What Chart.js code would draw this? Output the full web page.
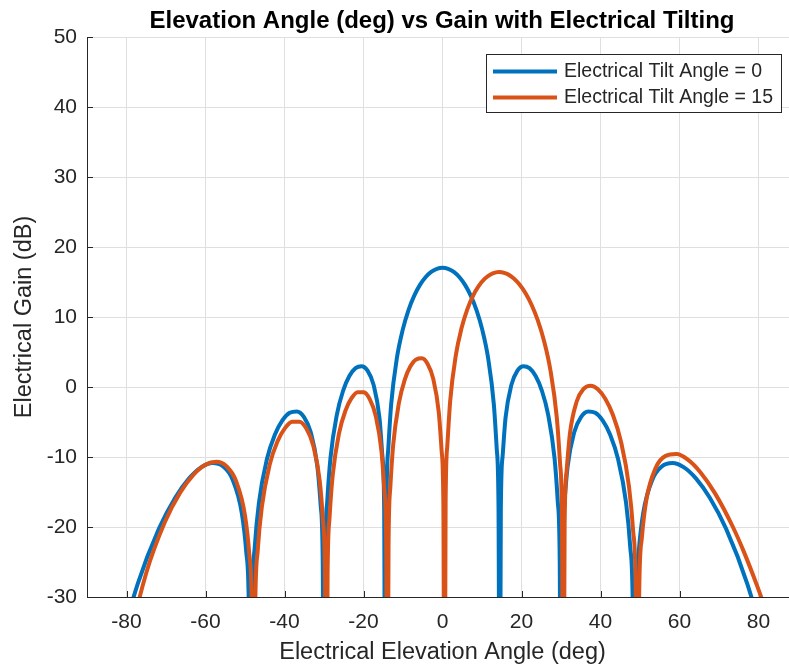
<!DOCTYPE html>
<html>
<head>
<meta charset="utf-8">
<script src="https://cdn.jsdelivr.net/npm/chart.js@4.4.1/dist/chart.umd.min.js"></script>
<style>
  html, body { margin: 0; padding: 0; background: #ffffff; overflow: hidden; }
  #wrap { width: 789px; height: 671px; overflow: hidden; position: relative; }
  canvas { display: block; }
</style>
</head>
<body>
<div id="wrap"><canvas id="c" width="810" height="671"></canvas></div>
<script>
// ---- Data ----
const chartTitle = 'Elevation Angle (deg) vs Gain with Electrical Tilting';
const xAxisTitle = 'Electrical Elevation Angle (deg)';
const yAxisTitle = 'Electrical Gain (dB)';
const seriesLabels = ['Electrical Tilt Angle = 0', 'Electrical Tilt Angle = 15'];

const xTickValues = [-80, -60, -40, -20, 0, 20, 40, 60, 80];
const xTickLabels = ['-80', '-60', '-40', '-20', '0', '20', '40', '60', '80'];
const yTickValues = [-30, -20, -10, 0, 10, 20, 30, 40, 50];
const yTickLabels = ['-30', '-20', '-10', '0', '10', '20', '30', '40', '50'];

// Tilt 0 (blue)
const blueAngles = [
  -84.27, -80.93, -77.16, -71.81, -67.67, -64.16, -61.04, -58.21, -55.59, -53.13, -50.81, -49.69, -49.03, -48.59,
  -48.16, -47.52, -46.47, -44.43, -42.45, -40.54, -38.68, -36.87, -35.10, -33.37, -31.67, -30.83, -30.33, -30.00,
  -29.67, -29.18, -28.36, -26.74, -25.15, -23.58, -22.02, -20.49, -18.97, -17.46, -15.96, -15.22, -14.77, -14.48,
  -14.18, -13.74, -13.00, -11.54, -10.08, -8.63, -7.18, -5.74, -4.30, -2.87, -1.43, 0, 1.43, 2.87, 4.30, 5.74, 7.18, 8.63, 10.08, 11.54, 13.00, 13.74, 14.18, 14.48,
  14.77, 15.22, 15.96, 17.46, 18.97, 20.49, 22.02, 23.58, 25.15, 26.74, 28.36, 29.18, 29.67, 30.00,
  30.33, 30.83, 31.67, 33.37, 35.10, 36.87, 38.68, 40.54, 42.45, 44.43, 46.47, 47.52, 48.16, 48.59,
  49.03, 49.69, 50.81, 53.13, 55.59, 58.21, 61.04, 64.16, 67.67, 71.81, 77.16, 80.93, 84.27
];
const blueGain = [
  -45.24, -35.74, -28.13, -20.27, -15.82, -13.05, -11.44, -10.85, -11.32, -13.24, -18.01, -23.53, -31.24, -60,
  -30.95, -22.79, -16.53, -10.26, -6.81, -4.76, -3.68, -3.49, -4.27, -6.43, -11.40, -17.00, -24.74, -60,
  -24.49, -16.38, -10.15, -3.93, -0.51, 1.56, 2.69, 2.98, 2.33, 0.34, -4.39, -9.86, -17.51, -60,
  -17.14, -8.92, -2.50, 4.17, 8.16, 10.96, 13.02, 14.55, 15.67, 16.44, 16.88, 17.03, 16.88, 16.44, 15.67, 14.55, 13.02, 10.96, 8.16, 4.17, -2.50, -8.92, -17.14, -60,
  -17.51, -9.86, -4.39, 0.34, 2.33, 2.98, 2.69, 1.56, -0.51, -3.93, -10.15, -16.38, -24.49, -60,
  -24.74, -17.00, -11.40, -6.43, -4.27, -3.49, -3.68, -4.76, -6.81, -10.26, -16.53, -22.79, -30.95, -60,
  -31.24, -23.53, -18.01, -13.24, -11.32, -10.85, -11.44, -13.05, -15.82, -20.27, -28.13, -35.74, -45.24
];

// Tilt 15 (orange)
const orangeAngles = [
  -80.46, -78.15, -75.06, -70.25, -66.38, -63.02, -60.02, -57.27, -54.70, -52.29, -50.01, -48.91, -48.26, -47.83,
  -47.41, -46.78, -45.74, -43.73, -41.77, -39.88, -38.04, -36.24, -34.48, -32.77, -31.08, -30.25, -29.75, -29.42,
  -29.09, -28.60, -27.79, -26.18, -24.59, -23.03, -21.48, -19.95, -18.43, -16.93, -15.44, -14.70, -14.25, -13.96,
  -13.66, -13.22, -12.49, -11.02, -9.57, -8.12, -6.67, -5.23, -3.80, -2.36, -0.93, -0.21, 0.22, 0.51,
  0.79, 1.22, 1.94, 3.37, 4.81, 6.25, 7.69, 9.14, 10.59, 12.05, 13.52, 14.26, 15.00, 16.49, 17.99, 19.50, 21.03, 22.57, 24.13, 25.71, 27.31, 28.94, 29.76, 30.25, 30.59,
  30.92, 31.42, 32.26, 33.97, 35.72, 37.51, 39.33, 41.21, 43.15, 45.14, 47.21, 48.27, 48.92, 49.36,
  49.80, 50.47, 51.61, 53.98, 56.49, 59.19, 62.11, 65.33, 69.04, 73.52, 76.25, 79.68, 82.45, 90
];
const orangeGain = [
  -42.80, -33.87, -26.67, -19.24, -15.06, -12.51, -11.10, -10.68, -11.31, -13.39, -18.32, -23.93, -31.69, -60,
  -31.45, -23.36, -17.16, -11.05, -7.77, -5.88, -4.97, -4.96, -5.92, -8.27, -13.42, -19.12, -26.92, -60,
  -26.76, -18.70, -12.59, -6.60, -3.41, -1.60, -0.74, -0.76, -1.74, -4.08, -9.23, -14.91, -22.71, -60,
  -22.52, -14.46, -8.31, -2.25, 1.03, 2.95, 3.94, 4.09, 3.31, 1.19, -3.67, -9.20, -16.89, -60,
  -16.57, -8.38, -2.03, 4.52, 8.38, 11.06, 13.00, 14.41, 15.41, 16.05, 16.37, 16.42, 16.39, 16.12, 15.54, 14.64, 13.39, 11.72, 9.52, 6.57, 2.43, -4.40, -10.90, -19.17, -60,
  -19.61, -12.00, -6.63, -2.07, -0.27, 0.18, -0.32, -1.68, -4.00, -7.69, -14.20, -20.58, -28.79, -60,
  -29.17, -21.53, -16.12, -11.55, -9.84, -9.58, -10.38, -12.21, -15.23, -20.00, -23.48, -28.44, -32.78, -42.42
];

// ---- Styling ----
const FONT = '"Liberation Sans", Arial, Helvetica, sans-serif';
const BLUE = '#0072BD';
const ORANGE = '#D95319';
const AXIS = '#262626';
const GRID = '#dfdfdf';

const toPoints = (xs, ys) => xs.map((x, i) => ({ x: x, y: ys[i] }));

const titlePlugin = {
  id: 'matlabTitle',
  afterDraw(chart) {
    const { ctx, chartArea } = chart;
    ctx.save();
    ctx.font = 'bold 24px ' + FONT;
    ctx.fillStyle = '#000000';
    ctx.textAlign = 'center';
    ctx.textBaseline = 'alphabetic';
    ctx.fillText(chartTitle, (chartArea.left + chartArea.right) / 2 - 0.5, 27.5);
    ctx.restore();
  }
};

const innerTicksPlugin = {
  id: 'innerTicks',
  beforeDatasetsDraw(chart) {
    const { ctx, chartArea, scales } = chart;
    const len = 6;
    ctx.save();
    ctx.strokeStyle = AXIS;
    ctx.lineWidth = 1;
    ctx.beginPath();
    xTickValues.forEach(v => {
      const px = Math.round(scales.x.getPixelForValue(v)) + 0.5;
      ctx.moveTo(px, chartArea.bottom);
      ctx.lineTo(px, chartArea.bottom - len);
    });
    yTickValues.forEach(v => {
      const py = Math.round(scales.y.getPixelForValue(v)) + 0.5;
      ctx.moveTo(chartArea.left, py);
      ctx.lineTo(chartArea.left + len, py);
    });
    ctx.stroke();
    ctx.restore();
  }
};

const legendPlugin = {
  id: 'innerLegend',
  afterDatasetsDraw(chart) {
    const { ctx } = chart;
    const box = { x: 486.5, y: 54.5, w: 295, h: 58 };
    const rows = [71.5, 97.5];
    ctx.save();
    ctx.fillStyle = '#ffffff';
    ctx.fillRect(box.x, box.y, box.w, box.h);
    ctx.strokeStyle = AXIS;
    ctx.lineWidth = 1;
    ctx.strokeRect(box.x, box.y, box.w, box.h);
    ctx.font = '19.5px ' + FONT;
    ctx.textAlign = 'left';
    ctx.textBaseline = 'middle';
    chart.data.datasets.forEach((ds, i) => {
      const y = rows[i];
      ctx.strokeStyle = ds.borderColor;
      ctx.lineWidth = 4;
      ctx.beginPath();
      ctx.moveTo(493, y);
      ctx.lineTo(557, y);
      ctx.stroke();
      ctx.fillStyle = AXIS;
      ctx.fillText(ds.label, 564, y + 0.5);
    });
    ctx.restore();
  }
};

new Chart(document.getElementById('c'), {
  type: 'line',
  data: {
    datasets: [
      {
        label: seriesLabels[0],
        data: toPoints(blueAngles, blueGain),
        borderColor: BLUE,
        backgroundColor: BLUE,
        borderWidth: 4,
        pointRadius: 0,
        fill: false,
        cubicInterpolationMode: 'monotone',
        clip: 0,
        order: 1
      },
      {
        label: seriesLabels[1],
        data: toPoints(orangeAngles, orangeGain),
        borderColor: ORANGE,
        backgroundColor: ORANGE,
        borderWidth: 4,
        pointRadius: 0,
        fill: false,
        cubicInterpolationMode: 'monotone',
        clip: 0,
        order: 0
      }
    ]
  },
  options: {
    responsive: false,
    animation: false,
    devicePixelRatio: 1,
    events: [],
    layout: { padding: { top: 37, right: 12, left: 0, bottom: 0 } },
    plugins: {
      legend: { display: false },
      title: { display: false },
      tooltip: { enabled: false }
    },
    scales: {
      x: {
        type: 'linear',
        min: -90,
        max: 90,
        afterBuildTicks: s => { s.ticks = xTickValues.map(v => ({ value: v })); },
        afterFit: s => { s.height = 74; },
        grid: { color: GRID, lineWidth: 1, drawTicks: false },
        border: { display: true, color: AXIS, width: 1 },
        ticks: {
          color: AXIS,
          padding: 13,
          maxRotation: 0,
          autoSkip: false,
          font: { family: FONT, size: 21 },
          callback: (v) => { const i = xTickValues.indexOf(v); return i >= 0 ? xTickLabels[i] : ''; }
        },
        title: {
          display: true,
          text: xAxisTitle,
          color: AXIS,
          font: { family: FONT, size: 23.5 },
          padding: { top: 0, bottom: 4.2 }
        }
      },
      y: {
        type: 'linear',
        min: -30,
        max: 50,
        afterBuildTicks: s => { s.ticks = yTickValues.map(v => ({ value: v })); },
        afterFit: s => { s.width = 87; },
        grid: { color: GRID, lineWidth: 1, drawTicks: false },
        border: { display: true, color: AXIS, width: 1 },
        ticks: {
          color: AXIS,
          padding: 10,
          autoSkip: false,
          font: { family: FONT, size: 21 },
          callback: (v) => { const i = yTickValues.indexOf(v); return i >= 0 ? yTickLabels[i] : ''; }
        },
        title: {
          display: true,
          text: yAxisTitle,
          color: AXIS,
          font: { family: FONT, size: 23.5 },
          padding: { top: 10.3, bottom: 0 }
        }
      }
    }
  },
  plugins: [innerTicksPlugin, legendPlugin, titlePlugin]
});
</script>
</body>
</html>
